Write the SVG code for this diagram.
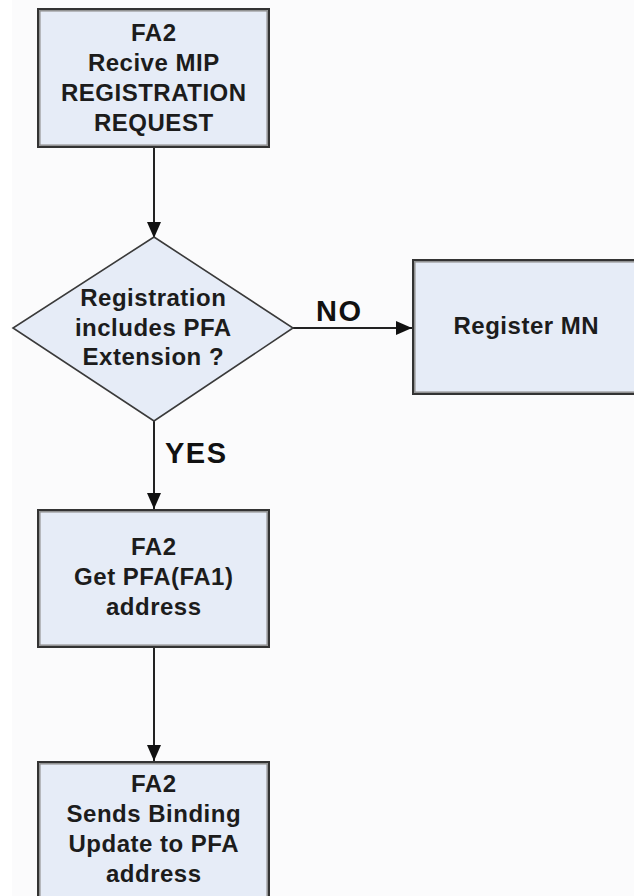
<svg xmlns="http://www.w3.org/2000/svg" width="634" height="896" viewBox="0 0 634 896">
  <defs>
    <marker id="arrow" markerUnits="userSpaceOnUse" markerWidth="18" markerHeight="16" refX="16" refY="7" orient="auto">
      <path d="M0,0 L16,7 L0,14 Z" fill="#111"/>
    </marker>
    <style>
      .box { fill: #e6ecf7; stroke: #333; stroke-width: 2; }
      .inner { fill: none; stroke: #8f8f8f; stroke-width: 1.5; }
      .dec { fill: #e6ecf7; stroke: #3a3a3a; stroke-width: 1.6; }
      .lbl { font-family: "Liberation Sans", Arial, sans-serif; font-weight: bold; font-size: 24px; letter-spacing: 0.5px; fill: #1c1c1c; text-anchor: middle; }
      .edge-lbl { font-family: "Liberation Sans", Arial, sans-serif; font-weight: bold; font-size: 29px; letter-spacing: 1.5px; fill: #111; }
      .conn { stroke: #222; stroke-width: 2; fill: none; marker-end: url(#arrow); }
    </style>
  </defs>

  <!-- page background -->
  <rect x="0" y="0" width="634" height="896" fill="#ffffff"/>
  <rect x="12" y="0" width="622" height="896" fill="#fbfbfc"/>

  <!-- connectors -->
  <g id="connectors">
    <line class="conn" x1="154" y1="148" x2="154" y2="238"/>
    <line class="conn" x1="293" y1="328" x2="412" y2="328"/>
    <line class="conn" x1="154" y1="421" x2="154" y2="509"/>
    <line class="conn" x1="154" y1="648" x2="154" y2="761"/>
    <text class="edge-lbl" x="316" y="321">NO</text>
    <text class="edge-lbl" x="165" y="463">YES</text>
  </g>

  <!-- start: receive registration request -->
  <g id="receive-request">
    <rect class="box" x="38" y="9" width="231" height="138"/>
    <rect class="inner" x="39.8" y="10.8" width="227.4" height="134.4"/>
    <text class="lbl" x="153.8" y="40.5">FA2</text>
    <text class="lbl" x="153.8" y="70.7">Recive MIP</text>
    <text class="lbl" x="153.8" y="100.9">REGISTRATION</text>
    <text class="lbl" x="153.8" y="131.1">REQUEST</text>
  </g>

  <!-- decision: PFA extension present -->
  <g id="pfa-decision">
    <polygon class="dec" points="154,237 293,328 154,421 13,328"/>
    <text class="lbl" x="153.3" y="306">Registration</text>
    <text class="lbl" x="153.3" y="335.5">includes PFA</text>
    <text class="lbl" x="153.3" y="365">Extension ?</text>
  </g>

  <!-- NO branch -->
  <g id="register-mn">
    <rect class="box" x="413" y="260" width="240" height="134"/>
    <rect class="inner" x="414.8" y="261.8" width="240" height="130.4"/>
    <text class="lbl" x="526.3" y="334">Register MN</text>
  </g>

  <!-- YES branch -->
  <g id="get-pfa-address">
    <rect class="box" x="38" y="510" width="231" height="137"/>
    <rect class="inner" x="39.8" y="511.8" width="227.4" height="133.4"/>
    <text class="lbl" x="153.8" y="555">FA2</text>
    <text class="lbl" x="153.8" y="585">Get PFA(FA1)</text>
    <text class="lbl" x="153.8" y="615">address</text>
  </g>

  <g id="send-binding-update">
    <rect class="box" x="38" y="762" width="231" height="150"/>
    <rect class="inner" x="39.8" y="763.8" width="227.4" height="150"/>
    <text class="lbl" x="153.8" y="792">FA2</text>
    <text class="lbl" x="153.8" y="822">Sends Binding</text>
    <text class="lbl" x="153.8" y="852">Update to PFA</text>
    <text class="lbl" x="153.8" y="882">address</text>
  </g>
</svg>
